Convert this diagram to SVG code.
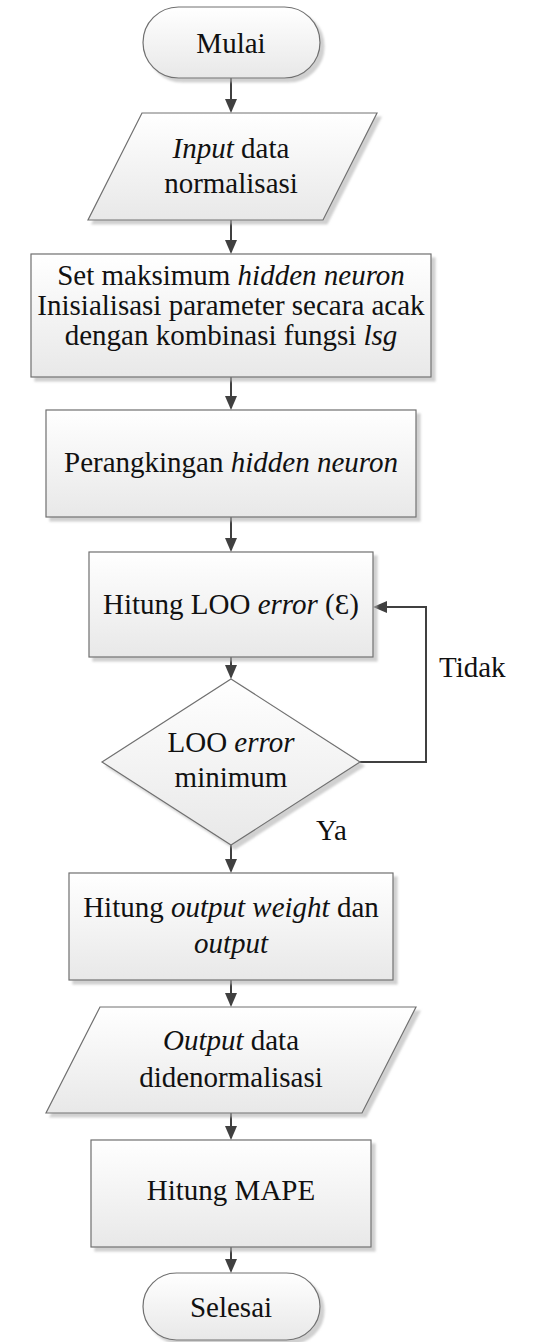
<svg xmlns="http://www.w3.org/2000/svg" width="535" height="1342" viewBox="0 0 535 1342" font-family="'Liberation Serif', 'Times New Roman', serif">
  <defs>
    <linearGradient id="fillGrad" x1="0" y1="0" x2="0" y2="1">
      <stop offset="0" stop-color="#ffffff"/>
      <stop offset="1" stop-color="#e8e8e8"/>
    </linearGradient>
    <filter id="shadow" x="-10%" y="-10%" width="130%" height="130%">
      <feDropShadow dx="4" dy="4" stdDeviation="1" flood-color="#b0b0b0" flood-opacity="0.6"/>
    </filter>
    <marker id="arrow" viewBox="0 0 14 12" refX="12" refY="6" markerWidth="14" markerHeight="12" markerUnits="userSpaceOnUse" orient="auto">
      <path d="M0,0 L14,6 L0,12 z" fill="#404040"/>
    </marker>
    <style>
      .shape { fill: url(#fillGrad); stroke: #707070; stroke-width: 1.2; filter: url(#shadow); }
      .lbl { font-family: "Liberation Serif", "Times New Roman", serif; font-size: 29px; fill: #111; text-anchor: middle; }
      .side { font-family: "Liberation Serif", "Times New Roman", serif; font-size: 29px; fill: #111; }
      .it { font-style: italic; }
      .conn { fill: none; stroke: #404040; stroke-width: 2; marker-end: url(#arrow); }
    </style>
  </defs>

  <rect width="535" height="1342" fill="#ffffff"/>

  <!-- connectors -->
  <g id="connectors">
    <line class="conn" x1="231" y1="78" x2="231" y2="111"/>
    <line class="conn" x1="231" y1="220" x2="231" y2="252"/>
    <line class="conn" x1="231" y1="377" x2="231" y2="408"/>
    <line class="conn" x1="231" y1="517" x2="231" y2="550"/>
    <line class="conn" x1="231" y1="657" x2="231" y2="677"/>
    <polyline class="conn" points="360,762 426,762 426,607 375,607"/>
    <line class="conn" x1="231" y1="845" x2="231" y2="871"/>
    <line class="conn" x1="231" y1="980" x2="231" y2="1005"/>
    <line class="conn" x1="231" y1="1113" x2="231" y2="1138"/>
    <line class="conn" x1="231" y1="1247" x2="231" y2="1271"/>
  </g>

  <g id="start">
    <rect class="shape" x="143" y="7" width="177" height="71" rx="35.5"/>
    <text class="lbl" x="231" y="53">Mulai</text>
  </g>

  <g id="input">
    <polygon class="shape" points="142,113 377,113 323,220 88,220"/>
    <text class="lbl" x="231" y="158"><tspan class="it">Input</tspan> data</text>
    <text class="lbl" x="231" y="193">normalisasi</text>
  </g>

  <g id="init">
    <rect class="shape" x="31" y="254" width="400" height="123"/>
    <text class="lbl" x="231" y="285">Set maksimum <tspan class="it">hidden neuron</tspan></text>
    <text class="lbl" x="231" y="315">Inisialisasi parameter secara acak</text>
    <text class="lbl" x="231" y="345">dengan kombinasi fungsi <tspan class="it">lsg</tspan></text>
  </g>

  <g id="ranking">
    <rect class="shape" x="46" y="410" width="370" height="107"/>
    <text class="lbl" x="231" y="472">Perangkingan <tspan class="it">hidden neuron</tspan></text>
  </g>

  <g id="loo">
    <rect class="shape" x="89" y="552" width="284" height="105"/>
    <text class="lbl" x="231" y="614">Hitung LOO <tspan class="it">error</tspan> (Ɛ)</text>
  </g>

  <g id="decision">
    <polygon class="shape" points="231,679 360,762 231,845 102,762"/>
    <text class="lbl" x="231" y="752">LOO <tspan class="it">error</tspan></text>
    <text class="lbl" x="231" y="787">minimum</text>
  </g>

  <text class="side" x="439" y="677">Tidak</text>
  <text class="side" x="316" y="840">Ya</text>

  <g id="weights">
    <rect class="shape" x="69" y="873" width="324" height="107"/>
    <text class="lbl" x="231" y="917">Hitung <tspan class="it">output weight</tspan> dan</text>
    <text class="lbl" x="231" y="953"><tspan class="it">output</tspan></text>
  </g>

  <g id="output">
    <polygon class="shape" points="100,1007 416,1007 362,1113 46,1113"/>
    <text class="lbl" x="231" y="1050"><tspan class="it">Output</tspan> data</text>
    <text class="lbl" x="231" y="1087">didenormalisasi</text>
  </g>

  <g id="mape">
    <rect class="shape" x="91" y="1140" width="280" height="107"/>
    <text class="lbl" x="231" y="1200">Hitung MAPE</text>
  </g>

  <g id="end">
    <rect class="shape" x="143" y="1273" width="177" height="67" rx="33.5"/>
    <text class="lbl" x="231" y="1317">Selesai</text>
  </g>
</svg>
